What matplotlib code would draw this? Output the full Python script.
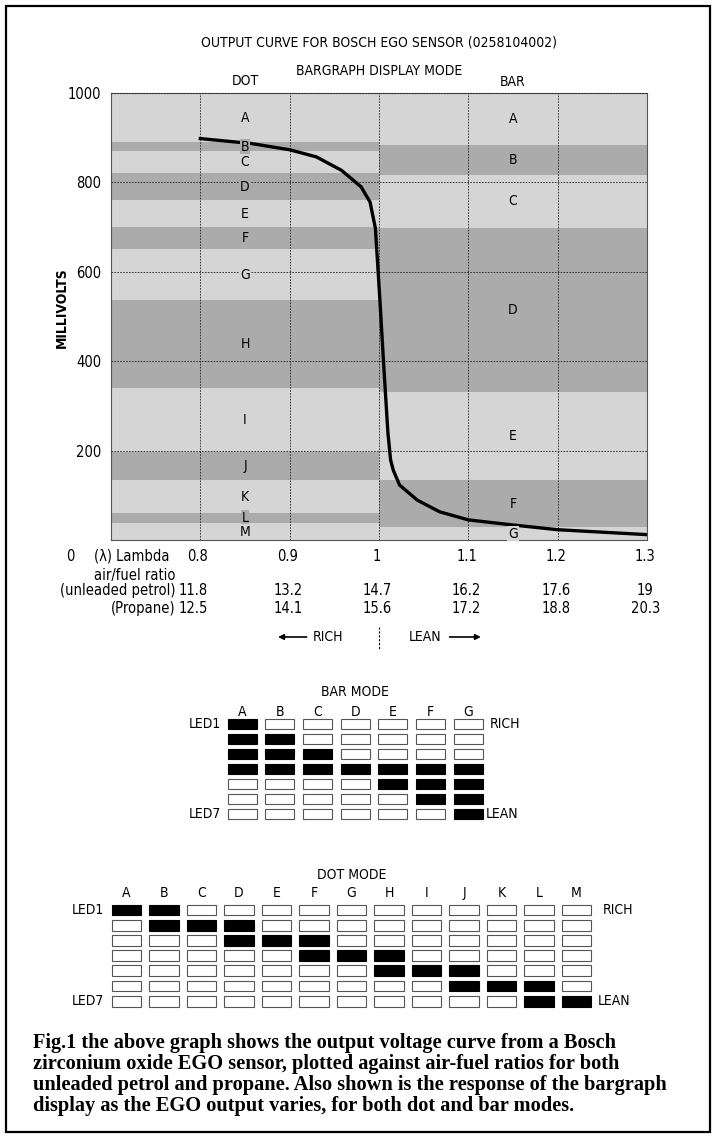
import matplotlib
matplotlib.use('Agg')
import matplotlib.pyplot as plt
from matplotlib.patches import Rectangle

plt.rcParams['font.family'] = 'DejaVu Sans'
plt.rcParams['font.stretch'] = 'condensed'

W, H = 716, 1144

# sensor output curve (lambda vs millivolts)
lam = [0.800, 0.857, 0.900, 0.930, 0.958, 0.980, 0.990, 0.996, 1.001, 1.005,
       1.010, 1.013, 1.016, 1.023, 1.043, 1.068, 1.100, 1.148, 1.200, 1.300]
mv = [898, 887, 873, 857, 827, 790, 756, 697, 537, 400,
      239, 179, 156, 123, 89, 63, 45, 34, 23, 12]

# bargraph zones, top edge of each zone in mV
dot_letters = list('ABCDEFGHIJKLM')
dot_tops = [1000, 890, 870, 820, 760, 700, 650, 537, 340, 197, 134, 60, 38]
bar_letters = list('ABCDEFG')
bar_tops = [1000, 884, 817, 698, 331, 134, 29]

y_ticks = [200, 400, 600, 800, 1000]
lambda_ticks = [0.8, 0.9, 1.0, 1.1, 1.2, 1.3]
lambda_labels = ['0.8', '0.9', '1', '1.1', '1.2', '1.3']
petrol_afr = ['11.8', '13.2', '14.7', '16.2', '17.6', '19']
propane_afr = ['12.5', '14.1', '15.6', '17.2', '18.8', '20.3']

# LEDs lit for each display column
bar_lit = [[1, 2, 3, 4], [2, 3, 4], [3, 4], [4], [4, 5], [4, 5, 6], [4, 5, 6, 7]]
dot_lit = [[1], [1, 2], [2], [2, 3], [3], [3, 4], [4], [4, 5], [5], [5, 6],
           [6], [6, 7], [7]]

caption = ("Fig.1 the above graph shows the output voltage curve from a Bosch\n"
           "zirconium oxide EGO sensor, plotted against air-fuel ratios for both\n"
           "unleaded petrol and propane. Also shown is the response of the bargraph\n"
           "display as the EGO output varies, for both dot and bar modes.")

LIGHT = '#d5d5d5'
DARK = '#ababab'
FS = 10


def px_box(l, t, r, b):
    return [l / W, 1 - b / H, (r - l) / W, (b - t) / H]


fig = plt.figure(figsize=(W / 100, H / 100), dpi=100)
fig.patch.set_facecolor('white')

# ---- main curve ----
ax = fig.add_axes(px_box(111, 93, 647, 540))
ax.set_xlim(0.7, 1.3)
ax.set_ylim(0, 1000)


def draw_zones(letters, tops, x0, x1, xl):
    bottoms = tops[1:] + [0]
    for i, (let, top, bot) in enumerate(zip(letters, tops, bottoms)):
        col = DARK if i % 2 else LIGHT
        ax.fill_between([x0, x1], bot, top, color=col, lw=0, zorder=0)
        ax.text(xl, (top + bot) / 2, let, ha='center', va='center',
                fontsize=FS, zorder=4,
                bbox=dict(boxstyle='square,pad=0.05', fc=col, ec='none'))


draw_zones(dot_letters, dot_tops, 0.7, 1.0, 0.85)
draw_zones(bar_letters, bar_tops, 1.0, 1.3, 1.15)

ax.plot(lam, mv, color='black', lw=2.4, solid_joinstyle='round', zorder=3)

ax.set_xticks(lambda_ticks)
ax.set_yticks(y_ticks)
ax.set_xticklabels([])
ax.grid(True, color='#222222', lw=0.6, ls=(0, (2, 1.5)), zorder=1)
ax.set_axisbelow(False)
ax.tick_params(length=0, labelsize=10.5, pad=7)
for s in ax.spines.values():
    s.set_color('#555555')
    s.set_linewidth(0.8)

xt = ax.get_xaxis_transform()
ax.text(-0.092, 0.52, 'MILLIVOLTS', transform=ax.transAxes, rotation=90,
        ha='center', va='center', fontsize=FS, fontweight='bold')
ax.text(1.0, 1.114, 'OUTPUT CURVE FOR BOSCH EGO SENSOR (0258104002)',
        transform=xt, ha='center', va='center', fontsize=FS)
ax.text(1.0, 1.049, 'BARGRAPH DISPLAY MODE', transform=xt,
        ha='center', va='center', fontsize=FS)
ax.text(0.85, 1.027, 'DOT', transform=xt, ha='center', va='center', fontsize=FS)
ax.text(1.15, 1.024, 'BAR', transform=xt, ha='center', va='center', fontsize=FS)

# rows of x labels
rows = [(-0.036, lambda_labels), (-0.112, petrol_afr), (-0.154, propane_afr)]
for yy, labs in rows:
    for i, (x, lab) in enumerate(zip(lambda_ticks, labs)):
        if i == 0:
            ax.text(x + 0.008, yy, lab, transform=xt, ha='right', va='center',
                    fontsize=10.5)
        else:
            ax.text(x - 0.002, yy, lab, transform=xt, ha='center', va='center',
                    fontsize=10.5)
ax.text(0.654, -0.036, '0', transform=xt, ha='center', va='center', fontsize=10.5)
ax.text(0.765, -0.036, '(λ) Lambda', transform=xt, ha='right', va='center',
        fontsize=10.5)
ax.text(0.727, -0.08, 'air/fuel ratio', transform=xt, ha='center', va='center',
        fontsize=10.5)
ax.text(0.772, -0.112, '(unleaded petrol)', transform=xt, ha='right',
        va='center', fontsize=10.5)
ax.text(0.772, -0.154, '(Propane)', transform=xt, ha='right', va='center',
        fontsize=10.5)

# rich / lean marker
ax.text(0.9257, -0.217, 'RICH', transform=xt, ha='left', va='center', fontsize=FS)
ax.text(1.0698, -0.217, 'LEAN', transform=xt, ha='right', va='center', fontsize=FS)
ax.annotate('', xy=(0.887, -0.217), xytext=(0.919, -0.217), xycoords=xt,
            arrowprops=dict(arrowstyle='-|>', color='black', lw=1.2,
                            mutation_scale=8, shrinkA=0, shrinkB=0))
ax.annotate('', xy=(1.114, -0.217), xytext=(1.079, -0.217), xycoords=xt,
            arrowprops=dict(arrowstyle='-|>', color='black', lw=1.2,
                            mutation_scale=8, shrinkA=0, shrinkB=0))
ax.plot([1.0, 1.0], [-0.195, -0.243], transform=xt, color='black', lw=0.8,
        ls=(0, (2, 1.5)), clip_on=False)


# ---- LED panels ----
def draw_leds(box, cols, lit, bw, bh, title, ty, ly, x_led, x_rich, x_lean):
    a = fig.add_axes(px_box(*box))
    n = len(cols)
    a.set_xlim(-0.5, n - 0.5)
    a.set_ylim(7.5, 0.5)
    a.axis('off')
    for c, (name, on) in enumerate(zip(cols, lit)):
        for r in range(1, 8):
            filled = r in on
            a.add_patch(Rectangle((c - bw / 2, r - bh / 2), bw, bh,
                                  fc='black' if filled else 'white',
                                  ec='black' if filled else '#555555',
                                  lw=0.8))
        a.text(c, ly, name, ha='center', va='center', fontsize=FS)
    a.text((n - 1) / 2, ty, title, ha='center', va='center', fontsize=FS)
    a.text(x_led, 1, 'LED1', ha='right', va='center', fontsize=FS)
    a.text(x_led, 7, 'LED7', ha='right', va='center', fontsize=FS)
    a.text(x_rich, 1, 'RICH', ha='left', va='center', fontsize=FS)
    a.text(x_lean, 7, 'LEAN', ha='left', va='center', fontsize=FS)


draw_leds((223.2, 716.5, 487.2, 821.5), bar_letters, bar_lit, 0.77, 0.73,
          'BAR MODE', -1.13, 0.2, -0.55, 6.58, 6.45)
draw_leds((107.8, 902.4, 595.3, 1008.8), dot_letters, dot_lit, 0.79, 0.70,
          'DOT MODE', -1.3, -0.12, -0.6, 12.71, 12.57)

# caption
fig.text(33 / W, 1 - 1033 / H, caption, ha='left', va='top', fontsize=14.7,
         fontweight='bold', family='Liberation Serif', stretch='normal',
         linespacing=1.06)

# outer frame
fig.add_artist(Rectangle((6 / W, 1 - 1132 / H), 704 / W, 1126 / H,
                         transform=fig.transFigure, fill=False,
                         ec='black', lw=1.6))

fig.savefig('out.png', dpi=100)
